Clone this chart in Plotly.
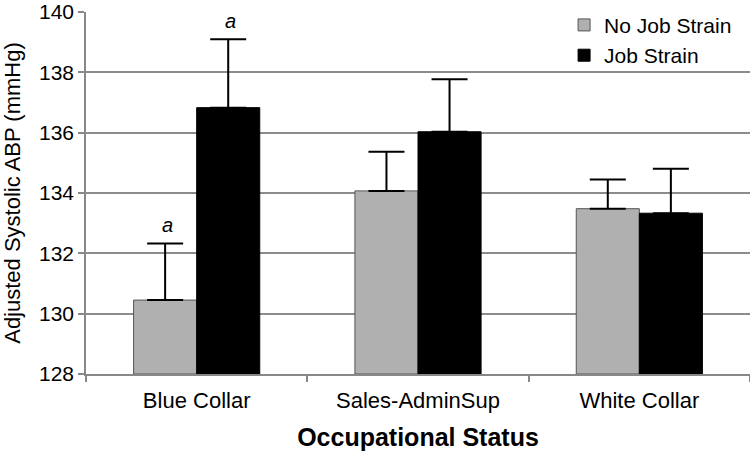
import plotly.graph_objects as go

categories = ["Blue Collar", "Sales-AdminSup", "White Collar"]
no_strain = [130.45, 134.07, 133.48]
no_strain_err = [1.88, 1.30, 0.97]
strain = [136.83, 136.03, 133.33]
strain_err = [2.27, 1.74, 1.47]
y_ticks = [128, 130, 132, 134, 136, 138, 140]
sig_labels_no = ["a", "", ""]
sig_labels_strain = ["a", "", ""]

FONT = "Liberation Sans, Arial, sans-serif"

fig = go.Figure()
fig.add_trace(go.Bar(
    name="No Job Strain", x=categories, y=[v - 128 for v in no_strain], base=128,
    marker=dict(color="#b0b0b0", line=dict(color="#555555", width=1)),
    error_y=dict(type="data", array=no_strain_err, symmetric=False, arrayminus=[0]*3,
                 color="black", thickness=2, width=18),
))
fig.add_trace(go.Bar(
    name="Job Strain", x=categories, y=[v - 128 for v in strain], base=128,
    marker=dict(color="black", line=dict(color="black", width=1)),
    error_y=dict(type="data", array=strain_err, symmetric=False, arrayminus=[0]*3,
                 color="black", thickness=2, width=18),
))

for i, c in enumerate(categories):
    if sig_labels_no[i]:
        fig.add_annotation(x=c, y=no_strain[i] + no_strain_err[i], text="<i>%s</i>" % sig_labels_no[i],
                           xshift=-29, yshift=5, yanchor="bottom", showarrow=False,
                           font=dict(size=20, color="black", family=FONT))
    if sig_labels_strain[i]:
        fig.add_annotation(x=c, y=strain[i] + strain_err[i], text="<i>%s</i>" % sig_labels_strain[i],
                           xshift=34, yshift=5, yanchor="bottom", showarrow=False,
                           font=dict(size=20, color="black", family=FONT))

fig.update_layout(
    width=750, height=454,
    margin=dict(l=86, r=0, t=12, b=80),
    paper_bgcolor="white", plot_bgcolor="white",
    barmode="group", bargap=0.43, bargroupgap=0,
    font=dict(family=FONT, color="black", size=21),
    legend=dict(x=0.72, y=1.02, xanchor="left", yanchor="top", bgcolor="rgba(0,0,0,0)",
                font=dict(size=21, family=FONT), traceorder="normal", tracegroupgap=0),
    showlegend=True,
)
fig.update_xaxes(
    type="category", showgrid=False, showline=True, linecolor="#888888", linewidth=1.5,
    ticks="outside", tickson="boundaries", ticklen=6, tickcolor="#888888", tickwidth=1.5,
    tickfont=dict(size=22, family=FONT), automargin=False, ticklabelstandoff=6,
    title=dict(text="<b>Occupational Status</b>", font=dict(size=25, family=FONT), standoff=16),
)
fig.update_yaxes(
    range=[128, 140], tickvals=y_ticks, showgrid=True, gridcolor="#8c8c8c", gridwidth=1.5,
    showline=True, linecolor="#888888", linewidth=1.5, zeroline=False,
    ticks="outside", ticklen=6, tickcolor="#888888", tickwidth=1.5,
    tickfont=dict(size=21, family=FONT), automargin=False, ticklabeloverflow="allow",
    title=dict(text="Adjusted Systolic ABP (mmHg)", font=dict(size=22, family=FONT), standoff=12),
)

fig.write_html("out.html", config={"displayModeBar": False},
               post_script="document.body.style.margin='0px';")
